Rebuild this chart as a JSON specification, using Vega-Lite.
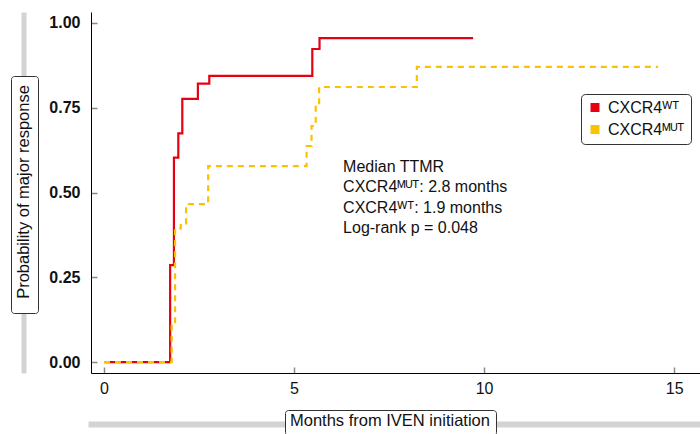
{
  "$schema": "https://vega.github.io/schema/vega-lite/v6.json",
  "width": 609,
  "height": 361,
  "autosize": {"type": "none"},
  "padding": {"left": 91, "top": 12, "right": 0, "bottom": 61},
  "background": "white",
  "config": {"view": {"stroke": null}, "font": "Liberation Sans"},
  "datasets": {
    "curves": [
      {"group": "CXCR4ᵂᵀ", "t": 0, "p": 0},
      {"group": "CXCR4ᵂᵀ", "t": 1.74, "p": 0.286},
      {"group": "CXCR4ᵂᵀ", "t": 1.84, "p": 0.603},
      {"group": "CXCR4ᵂᵀ", "t": 1.955, "p": 0.674},
      {"group": "CXCR4ᵂᵀ", "t": 2.06, "p": 0.776},
      {"group": "CXCR4ᵂᵀ", "t": 2.47, "p": 0.821},
      {"group": "CXCR4ᵂᵀ", "t": 2.77, "p": 0.844},
      {"group": "CXCR4ᵂᵀ", "t": 5.48, "p": 0.923},
      {"group": "CXCR4ᵂᵀ", "t": 5.67, "p": 0.955},
      {"group": "CXCR4ᵂᵀ", "t": 9.71, "p": 0.955},
      {"group": "CXCR4ᴹᵁᵀ", "t": 0, "p": 0},
      {"group": "CXCR4ᴹᵁᵀ", "t": 1.78, "p": 0.112},
      {"group": "CXCR4ᴹᵁᵀ", "t": 1.87, "p": 0.394},
      {"group": "CXCR4ᴹᵁᵀ", "t": 2.02, "p": 0.409},
      {"group": "CXCR4ᴹᵁᵀ", "t": 2.16, "p": 0.466},
      {"group": "CXCR4ᴹᵁᵀ", "t": 2.74, "p": 0.578},
      {"group": "CXCR4ᴹᵁᵀ", "t": 5.33, "p": 0.637},
      {"group": "CXCR4ᴹᵁᵀ", "t": 5.46, "p": 0.696},
      {"group": "CXCR4ᴹᵁᵀ", "t": 5.57, "p": 0.758},
      {"group": "CXCR4ᴹᵁᵀ", "t": 5.66, "p": 0.811},
      {"group": "CXCR4ᴹᵁᵀ", "t": 8.23, "p": 0.87},
      {"group": "CXCR4ᴹᵁᵀ", "t": 14.58, "p": 0.87}
    ],
    "note": [
      {"label": "Median TTMR\nCXCR4ᴹᵁᵀ: 2.8 months\nCXCR4ᵂᵀ: 1.9 months\nLog-rank p = 0.048"}
    ]
  },
  "layer": [
    {
      "layer": [
        {
          "data": {"name": "curves"},
          "transform": [{"filter": "datum.group === 'CXCR4ᵂᵀ'"}],
          "mark": {"type": "line", "interpolate": "step-after"},
          "encoding": {
            "x": {
              "field": "t", "type": "quantitative",
              "scale": {"domain": [-0.342, 15.68], "nice": false, "zero": false},
              "axis": {
                "values": [0, 5, 10, 15], "title": null, "grid": false,
                "domainColor": "#000000", "domainWidth": 1,
                "tickColor": "#888888", "tickSize": -6, "tickWidth": 1.5,
                "labelFontSize": 16, "labelColor": "#111111", "labelPadding": 13,
                "labelFont": "Liberation Sans"
              }
            },
            "y": {
              "field": "p", "type": "quantitative",
              "scale": {"domain": [-0.032, 1.032], "nice": false, "zero": false},
              "axis": {
                "values": [0, 0.25, 0.5, 0.75, 1], "format": ".2f", "title": null, "grid": false,
                "domainColor": "#000000", "domainWidth": 1,
                "tickColor": "#888888", "tickSize": -6, "tickWidth": 1.5,
                "labelFontSize": 16, "labelFontWeight": "bold", "labelColor": "#111111",
                "labelPadding": 17, "labelFont": "Liberation Sans"
              }
            },
            "color": {
              "field": "group", "type": "nominal",
              "scale": {"domain": ["CXCR4ᵂᵀ", "CXCR4ᴹᵁᵀ"], "range": ["#e60012", "#fcc200"]},
              "legend": {
                "title": null, "orient": "none", "legendX": 490, "legendY": 82,
                "symbolType": "square", "symbolSize": 20, "symbolStrokeWidth": 4.5,
                "labelFontSize": 16, "labelOffset": 5, "labelColor": "#111111",
                "padding": 6, "rowPadding": 5, "clipHeight": 15,
                "strokeColor": "#333333", "fillColor": "white", "cornerRadius": 4
              }
            },
            "strokeWidth": {"value": 2.2}
          }
        },
        {
          "data": {"name": "curves"},
          "transform": [{"filter": "datum.group === 'CXCR4ᴹᵁᵀ'"}],
          "mark": {"type": "line", "interpolate": "step-after"},
          "encoding": {
            "x": {"field": "t", "type": "quantitative"},
            "y": {"field": "p", "type": "quantitative"},
            "color": {
              "field": "group", "type": "nominal",
              "scale": {"domain": ["CXCR4ᵂᵀ", "CXCR4ᴹᵁᵀ"], "range": ["#e60012", "#fcc200"]},
              "legend": {
                "title": null, "orient": "none", "legendX": 490, "legendY": 82,
                "symbolType": "square", "symbolSize": 20, "symbolStrokeWidth": 4.5,
                "labelFontSize": 16, "labelOffset": 5, "labelColor": "#111111",
                "padding": 6, "rowPadding": 5, "clipHeight": 15,
                "strokeColor": "#333333", "fillColor": "white", "cornerRadius": 4
              }
            },
            "strokeWidth": {"value": 2.2},
            "strokeDash": {"value": [6, 5]}
          }
        },
        {
          "data": {"name": "note"},
          "mark": {
            "type": "text", "align": "left", "baseline": "alphabetic",
            "fontSize": 16, "lineHeight": 20.3, "lineBreak": "\n", "color": "#111111",
            "font": "Liberation Sans"
          },
          "encoding": {
            "x": {"datum": 6.29, "type": "quantitative"},
            "y": {"datum": 0.5605, "type": "quantitative"},
            "text": {"field": "label"}
          }
        }
      ]
    },
    {
      "data": {"name": "curves"},
      "mark": {"type": "point", "opacity": 0, "size": 0},
      "encoding": {
        "x": {
          "field": "t", "type": "quantitative",
          "axis": {
            "orient": "bottom", "offset": 51, "domainColor": "#d3d3d3", "domainWidth": 6,
            "domainCap": "square", "ticks": false, "labels": false, "title": null, "grid": false
          }
        },
        "y": {
          "field": "p", "type": "quantitative",
          "axis": {
            "orient": "left", "offset": 67.5, "domainColor": "#d3d3d3", "domainWidth": 5,
            "ticks": false, "labels": false, "title": null, "grid": false
          }
        },
        "stroke": {
          "datum": 2, "type": "quantitative",
          "scale": {"range": ["white", "white"]},
          "legend": {
            "type": "gradient", "direction": "horizontal", "orient": "none",
            "legendX": 194, "legendY": 398,
            "title": "Months from IVEN initiation", "titleOrient": "left",
            "titleBaseline": "top",
            "titleFontSize": 16.5, "titleFontWeight": "normal", "titleColor": "#111111",
            "titleLimit": 400, "titlePadding": 0,
            "gradientLength": 0.5, "gradientThickness": 0, "gradientStrokeWidth": 0,
            "labelExpr": "''", "labelOffset": 0,
            "padding": 5, "strokeColor": "#333333", "fillColor": "white", "cornerRadius": 3
          }
        },
        "fill": {
          "datum": 1, "type": "quantitative",
          "scale": {"range": ["white", "white"]},
          "legend": {
            "type": "gradient", "direction": "vertical", "orient": "none",
            "legendX": -80, "legendY": 64,
            "title": "Probability of major response", "titleOrient": "left",
            "titleFontSize": 16.5, "titleFontWeight": "normal", "titleColor": "#111111",
            "titleLimit": 400, "titlePadding": 0,
            "gradientLength": 227, "gradientThickness": 0, "gradientStrokeWidth": 0,
            "labelExpr": "''", "labelOffset": 0,
            "padding": 5, "strokeColor": "#333333", "fillColor": "white", "cornerRadius": 3
          }
        }
      }
    }
  ],
  "resolve": {
    "scale": {"x": "independent", "y": "independent"},
    "axis": {"x": "independent", "y": "independent"}
  }
}
